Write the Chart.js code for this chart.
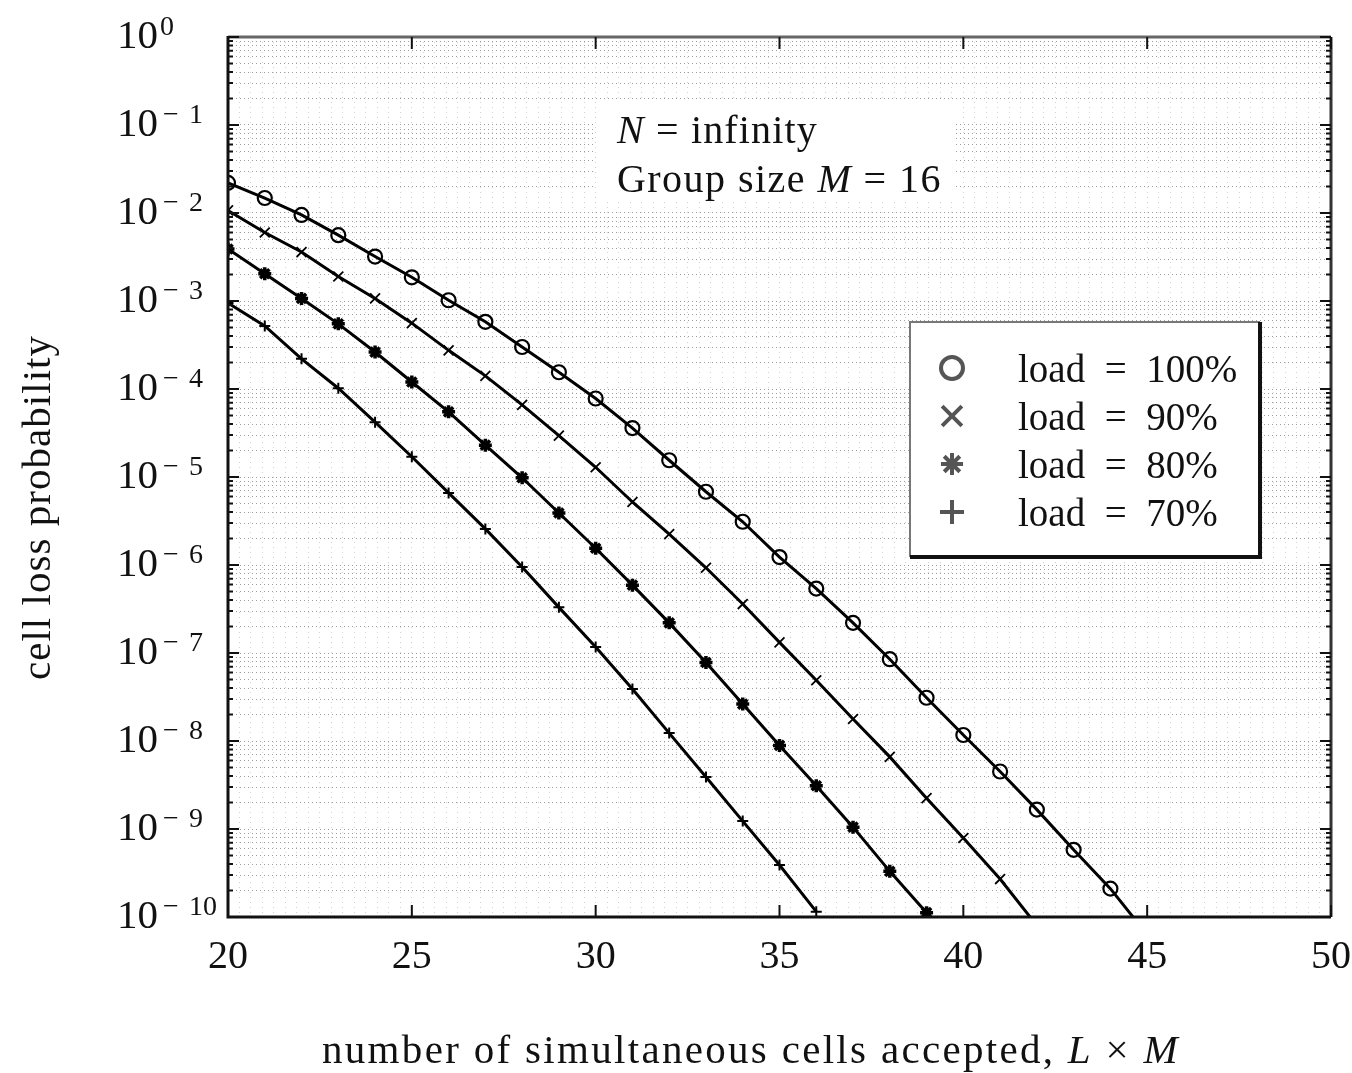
<!DOCTYPE html>
<html>
<head>
<meta charset="utf-8">
<script src="https://cdn.jsdelivr.net/npm/chart.js@4.4.1/dist/chart.umd.min.js"></script>
<style>
  html, body { margin: 0; padding: 0; background: #fff; }
</style>
</head>
<body>
<canvas id="chart" width="1352" height="1073"></canvas>
<script>
// number of simultaneous cells accepted, L x M
const cellsAccepted = [20, 21, 22, 23, 24, 25, 26, 27, 28, 29, 30, 31, 32, 33,
                       34, 35, 36, 37, 38, 39, 40, 41, 42, 43, 44, 45];

// cell loss probability, one list per load
const load100 = [2.2e-2, 1.48e-2, 9.5e-3, 5.6e-3, 3.2e-3, 1.86e-3, 1.02e-3, 5.8e-4, 3.0e-4,
                 1.55e-4, 7.8e-5, 3.6e-5, 1.55e-5, 6.8e-6, 3.1e-6, 1.23e-6, 5.4e-7, 2.2e-7,
                 8.5e-8, 3.1e-8, 1.17e-8, 4.5e-9, 1.66e-9, 5.8e-10, 2.1e-10, 6.3e-11];
const load90 = [1.07e-2, 6.0e-3, 3.6e-3, 1.9e-3, 1.07e-3, 5.6e-4, 2.75e-4, 1.41e-4, 6.6e-5,
                2.95e-5, 1.29e-5, 5.2e-6, 2.24e-6, 9.3e-7, 3.6e-7, 1.32e-7, 4.9e-8, 1.78e-8,
                6.6e-9, 2.24e-9, 7.9e-10, 2.7e-10, 8e-11];
const load80 = [3.9e-3, 2.04e-3, 1.07e-3, 5.5e-4, 2.63e-4, 1.2e-4, 5.5e-5, 2.3e-5, 9.8e-6,
                3.9e-6, 1.55e-6, 5.9e-7, 2.2e-7, 7.8e-8, 2.63e-8, 8.9e-9, 3.1e-9, 1.05e-9,
                3.3e-10, 1.12e-10];
const load70 = [9.5e-4, 5.2e-4, 2.2e-4, 1.02e-4, 4.2e-5, 1.7e-5, 6.6e-6, 2.57e-6, 9.5e-7,
                3.3e-7, 1.17e-7, 3.9e-8, 1.23e-8, 3.9e-9, 1.23e-9, 3.9e-10, 1.15e-10];

const seriesLabels = ['load = 100%', 'load = 90%', 'load = 80%', 'load = 70%'];
const xTickLabels = [20, 25, 30, 35, 40, 45, 50];
const yDecades = [0, -1, -2, -3, -4, -5, -6, -7, -8, -9, -10];

const FONT = '"Liberation Serif", "Times New Roman", Times, serif';
const INK = '#111';
const PLOT = { left: 228, top: 37, right: 1331, bottom: 917 };

function toPoints(values) {
    return values.map((v, i) => ({ x: cellsAccepted[i], y: v }));
}

// draw a row of text pieces (some italic), stretched to a given width
function drawRuns(ctx, runs, x, y, size, width) {
    let natural = 0, chars = 0;
    ctx.letterSpacing = '0px';
    runs.forEach(([t, it]) => {
        ctx.font = (it ? 'italic ' : '') + size + 'px ' + FONT;
        natural += ctx.measureText(t).width;
        chars += t.length;
    });
    const spacing = width ? (width - natural) / chars : 0;
    let cx = x;
    runs.forEach(([t, it]) => {
        ctx.font = (it ? 'italic ' : '') + size + 'px ' + FONT;
        ctx.letterSpacing = '0px';
        const w = ctx.measureText(t).width;
        ctx.letterSpacing = spacing + 'px';
        ctx.fillText(t, cx, y);
        cx += w + spacing * t.length;
    });
    ctx.letterSpacing = '0px';
}

const paperPlugin = {
    id: 'paper',
    afterDraw(chart) {
        const ctx = chart.ctx;
        const a = chart.chartArea;
        const xs = chart.scales.x, ys = chart.scales.y;
        ctx.save();
        ctx.setLineDash([]);

        // frame
        ctx.lineWidth = 3;
        ctx.strokeStyle = '#666';
        ctx.beginPath(); ctx.moveTo(a.left, a.top); ctx.lineTo(a.right, a.top); ctx.stroke();
        ctx.strokeStyle = '#333';
        ctx.beginPath(); ctx.moveTo(a.right, a.top); ctx.lineTo(a.right, a.bottom); ctx.stroke();
        ctx.strokeStyle = INK;
        ctx.beginPath(); ctx.moveTo(a.left, a.top - 1); ctx.lineTo(a.left, a.bottom); ctx.lineTo(a.right, a.bottom); ctx.stroke();

        // inward tick marks
        ctx.lineWidth = 2;
        ys.ticks.forEach(t => {
            const y = ys.getPixelForValue(t.value);
            const len = t.major ? 11 : 5;
            ctx.beginPath();
            ctx.moveTo(a.left, y); ctx.lineTo(a.left + len, y);
            ctx.moveTo(a.right, y); ctx.lineTo(a.right - len, y);
            ctx.stroke();
        });
        xTickLabels.forEach(v => {
            const x = xs.getPixelForValue(v);
            ctx.beginPath();
            ctx.moveTo(x, a.bottom); ctx.lineTo(x, a.bottom - 12);
            ctx.moveTo(x, a.top); ctx.lineTo(x, a.top + 12);
            ctx.stroke();
        });

        // y tick labels: 10 with superscript exponent
        ctx.fillStyle = INK;
        yDecades.forEach(e => {
            const y = ys.getPixelForValue(Math.pow(10, e));
            ctx.font = '41px ' + FONT;
            ctx.textAlign = 'right';
            ctx.textBaseline = 'middle';
            ctx.fillText('10', 158, y);
            ctx.textAlign = 'left';
            ctx.textBaseline = 'alphabetic';
            ctx.font = '28px ' + FONT;
            if (e === 0) {
                ctx.fillText('0', 160, y - 2);
            } else {
                ctx.fillText('\u2212', 163, y - 2);
                ctx.fillText(String(-e), 189, y - 2);
            }
        });

        // annotation
        ctx.fillStyle = '#fff';
        ctx.fillRect(596, 99, 360, 102);
        ctx.fillStyle = INK;
        ctx.textAlign = 'left';
        ctx.textBaseline = 'alphabetic';
        drawRuns(ctx, [['N', true], [' = infinity', false]], 617, 143, 40, 201);
        drawRuns(ctx, [['Group size ', false], ['M', true], [' = 16', false]], 617, 192, 40, 325);

        // legend box
        const box = { l: 910, t: 322, r: 1260, b: 557 };
        ctx.fillStyle = '#fff';
        ctx.fillRect(box.l, box.t, box.r - box.l, box.b - box.t);
        ctx.lineWidth = 2;
        ctx.strokeStyle = '#777';
        ctx.beginPath(); ctx.moveTo(box.l, box.b); ctx.lineTo(box.l, box.t); ctx.lineTo(box.r, box.t); ctx.stroke();
        ctx.lineWidth = 4;
        ctx.strokeStyle = INK;
        ctx.beginPath(); ctx.moveTo(box.r, box.t); ctx.lineTo(box.r, box.b); ctx.lineTo(box.l, box.b); ctx.stroke();

        const legendMarks = [
            { pointStyle: 'circle', radius: 11, borderWidth: 1.6 },
            { pointStyle: 'crossRot', radius: 14, borderWidth: 1.5 },
            { pointStyle: 'star', radius: 11, borderWidth: 2.6 },
            { pointStyle: 'cross', radius: 12, borderWidth: 1.8 }
        ];
        chart.data.datasets.forEach((ds, i) => {
            const y = 368 + i * 48;
            ctx.strokeStyle = '#555';
            ctx.fillStyle = 'rgba(0,0,0,0)';
            Chart.helpers.drawPoint(ctx, Object.assign({ rotation: 0 }, legendMarks[i]), 952, y);
            ctx.fillStyle = INK;
            drawRuns(ctx, [[ds.label.replace(/ = /, '  =  '), false]], 1018, y + 14, 39, 0);
        });

        // axis titles
        drawRuns(ctx, [['number of simultaneous cells accepted, ', false], ['L', true],
                       [' \u00d7 ', false], ['M', true]], 322, 1063, 41, 858);
        ctx.save();
        ctx.translate(50, 680);
        ctx.rotate(-Math.PI / 2);
        drawRuns(ctx, [['cell loss probability', false]], 0, 0, 41, 345);
        ctx.restore();

        ctx.restore();
    }
};

const minorX = [];
for (let k = 0; k <= 96; k++) minorX.push(20 + k * 0.3125);

const lineStyle = { borderColor: '#000', borderWidth: 3, pointBorderColor: '#000',
                    pointBackgroundColor: 'rgba(0,0,0,0)', tension: 0, fill: false };

const chart = new Chart(document.getElementById('chart'), {
    type: 'line',
    data: {
        datasets: [
            Object.assign({}, lineStyle, { label: seriesLabels[0], data: toPoints(load100), pointStyle: 'circle', pointRadius: 7, pointBorderWidth: 2.2 }),
            Object.assign({}, lineStyle, { label: seriesLabels[1], data: toPoints(load90), pointStyle: 'crossRot', pointRadius: 7, pointBorderWidth: 1.8 }),
            Object.assign({}, lineStyle, { label: seriesLabels[2], data: toPoints(load80), pointStyle: 'star', pointRadius: 6.5, pointBorderWidth: 3.5, pointBackgroundColor: '#000' }),
            Object.assign({}, lineStyle, { label: seriesLabels[3], data: toPoints(load70), pointStyle: 'cross', pointRadius: 5.5, pointBorderWidth: 2 })
        ]
    },
    options: {
        responsive: false,
        animation: false,
        devicePixelRatio: 1,
        layout: { padding: { left: 0, top: PLOT.top, right: 1352 - PLOT.right, bottom: 0 } },
        plugins: { legend: { display: false }, tooltip: { enabled: false } },
        scales: {
            x: {
                type: 'linear', min: 20, max: 50,
                afterBuildTicks: s => { s.ticks = minorX.map(v => ({ value: v })); },
                afterFit: s => { s.height = 1073 - PLOT.bottom; s.paddingLeft = 0; s.paddingRight = 0; },
                ticks: {
                    autoSkip: false, maxRotation: 0, minRotation: 0, padding: 16, color: INK,
                    font: { family: FONT, size: 40 },
                    callback: v => xTickLabels.includes(v) ? String(v) : ''
                },
                grid: { color: '#d2d2d2', lineWidth: 1, drawTicks: false },
                border: { display: false, dash: [1, 4] }
            },
            y: {
                type: 'logarithmic', min: 1e-10, max: 1,
                afterBuildTicks: s => {
                    const t = [];
                    yDecades.slice().reverse().forEach(e => {
                        for (let m = 1; m < 10; m++) {
                            if (e === 0 && m > 1) break;
                            t.push({ value: m * Math.pow(10, e), major: m === 1 });
                        }
                    });
                    s.ticks = t;
                },
                afterFit: s => { s.width = PLOT.left; s.paddingTop = 0; s.paddingBottom = 0; },
                ticks: { display: false, autoSkip: false },
                grid: { color: '#9c9c9c', lineWidth: 1, drawTicks: false },
                border: { display: false, dash: [1, 3] }
            }
        }
    },
    plugins: [paperPlugin]
});
</script>
</body>
</html>
